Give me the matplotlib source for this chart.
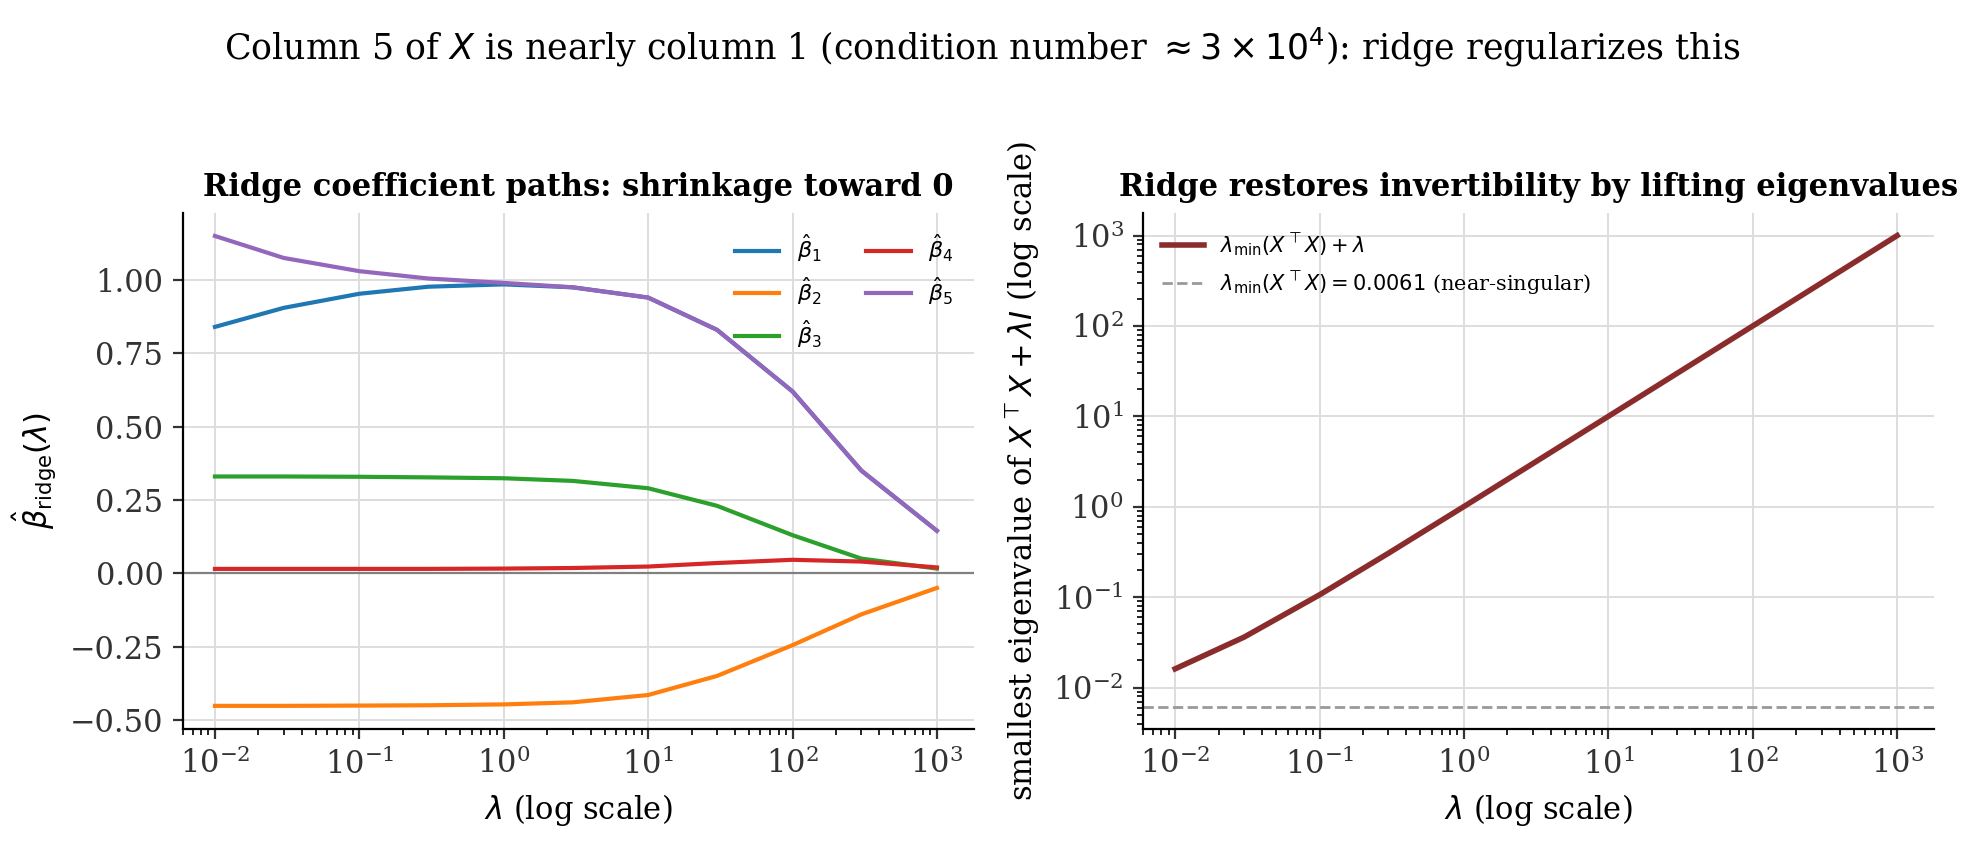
import numpy as np
import matplotlib
matplotlib.use("Agg")
import matplotlib.pyplot as plt

plt.rcParams['font.family'] = ['DejaVu Serif']
plt.rcParams['mathtext.fontset'] = 'dejavusans'

lam = [0.01, 0.03, 0.1, 0.3, 1, 3, 10, 30, 100, 300, 1000]
beta1 = [0.84, 0.905, 0.953, 0.977, 0.985, 0.975, 0.94, 0.83, 0.62, 0.35, 0.145]
beta2 = [-0.452, -0.452, -0.451, -0.450, -0.447, -0.44, -0.415, -0.35, -0.245, -0.14, -0.05]
beta3 = [0.33, 0.33, 0.329, 0.327, 0.324, 0.315, 0.29, 0.23, 0.13, 0.05, 0.016]
beta4 = [0.015, 0.015, 0.015, 0.015, 0.016, 0.018, 0.023, 0.035, 0.046, 0.04, 0.02]
beta5 = [1.15, 1.075, 1.03, 1.005, 0.99, 0.975, 0.94, 0.83, 0.62, 0.35, 0.145]
eig_min = [0.0161, 0.0361, 0.1061, 0.3061, 1.0061, 3.0061, 10.0061, 30.0061, 100.0061, 300.0061, 1000.0061]
lam_min_xtx = 0.0061

fig, (ax1, ax2) = plt.subplots(1, 2, figsize=(9.82, 4.29), dpi=200)
colors = ['#1f77b4', '#ff7f0e', '#2ca02c', '#d62728', '#9467bd']
for i, (b, c) in enumerate(zip([beta1, beta2, beta3, beta4, beta5], colors)):
    ax1.plot(lam, b, color=c, lw=1.5, label=r'$\hat{\beta}_%d$' % (i + 1))
ax1.axhline(0, color='gray', lw=0.8)
ax1.set_xscale('log')
ax1.set_title('Ridge coefficient paths: shrinkage toward 0', fontweight='bold', fontsize=11)
ax1.set_xlabel(r'$\lambda$ (log scale)', fontsize=11)
ax1.set_ylabel(r'$\hat{\beta}_{\mathrm{ridge}}(\lambda)$', fontsize=11)
ax1.set_ylim(-0.53, 1.23)
ax1.legend(ncol=2, frameon=False, fontsize=8, loc='upper right')

ax2.plot(lam, eig_min, color='#8b2c2c', lw=2, label=r'$\lambda_{\min}(X^\top X) + \lambda$')
ax2.axhline(lam_min_xtx, color='#999999', lw=1, ls='--',
            label=r'$\lambda_{\min}(X^\top X) = 0.0061$ (near-singular)')
ax2.set_xscale('log'); ax2.set_yscale('log')
ax2.set_ylim(3.5e-3, 1.8e3)
ax2.set_title('Ridge restores invertibility by lifting eigenvalues', fontweight='bold', fontsize=11)
ax2.set_xlabel(r'$\lambda$ (log scale)', fontsize=11)
ax2.set_ylabel(r'smallest eigenvalue of $X^\top X + \lambda I$ (log scale)', fontsize=11)
ax2.legend(frameon=False, fontsize=7.5, loc='upper left')

for ax in (ax1, ax2):
    ax.grid(True, color='#dddddd', lw=0.7)
    ax.set_axisbelow(True)
    for s in ('top', 'right'):
        ax.spines[s].set_visible(False)
    ax.tick_params(labelsize=11, colors='#333333')
    ax.set_xlim(0.006, 1800)

fig.suptitle(r'Column 5 of $X$ is nearly column 1 (condition number $\approx 3 \times 10^4$): ridge regularizes this',
             fontsize=12.5, y=0.97)
fig.tight_layout(rect=[0, 0, 1, 0.92])
fig.savefig('out.png', dpi=200)
